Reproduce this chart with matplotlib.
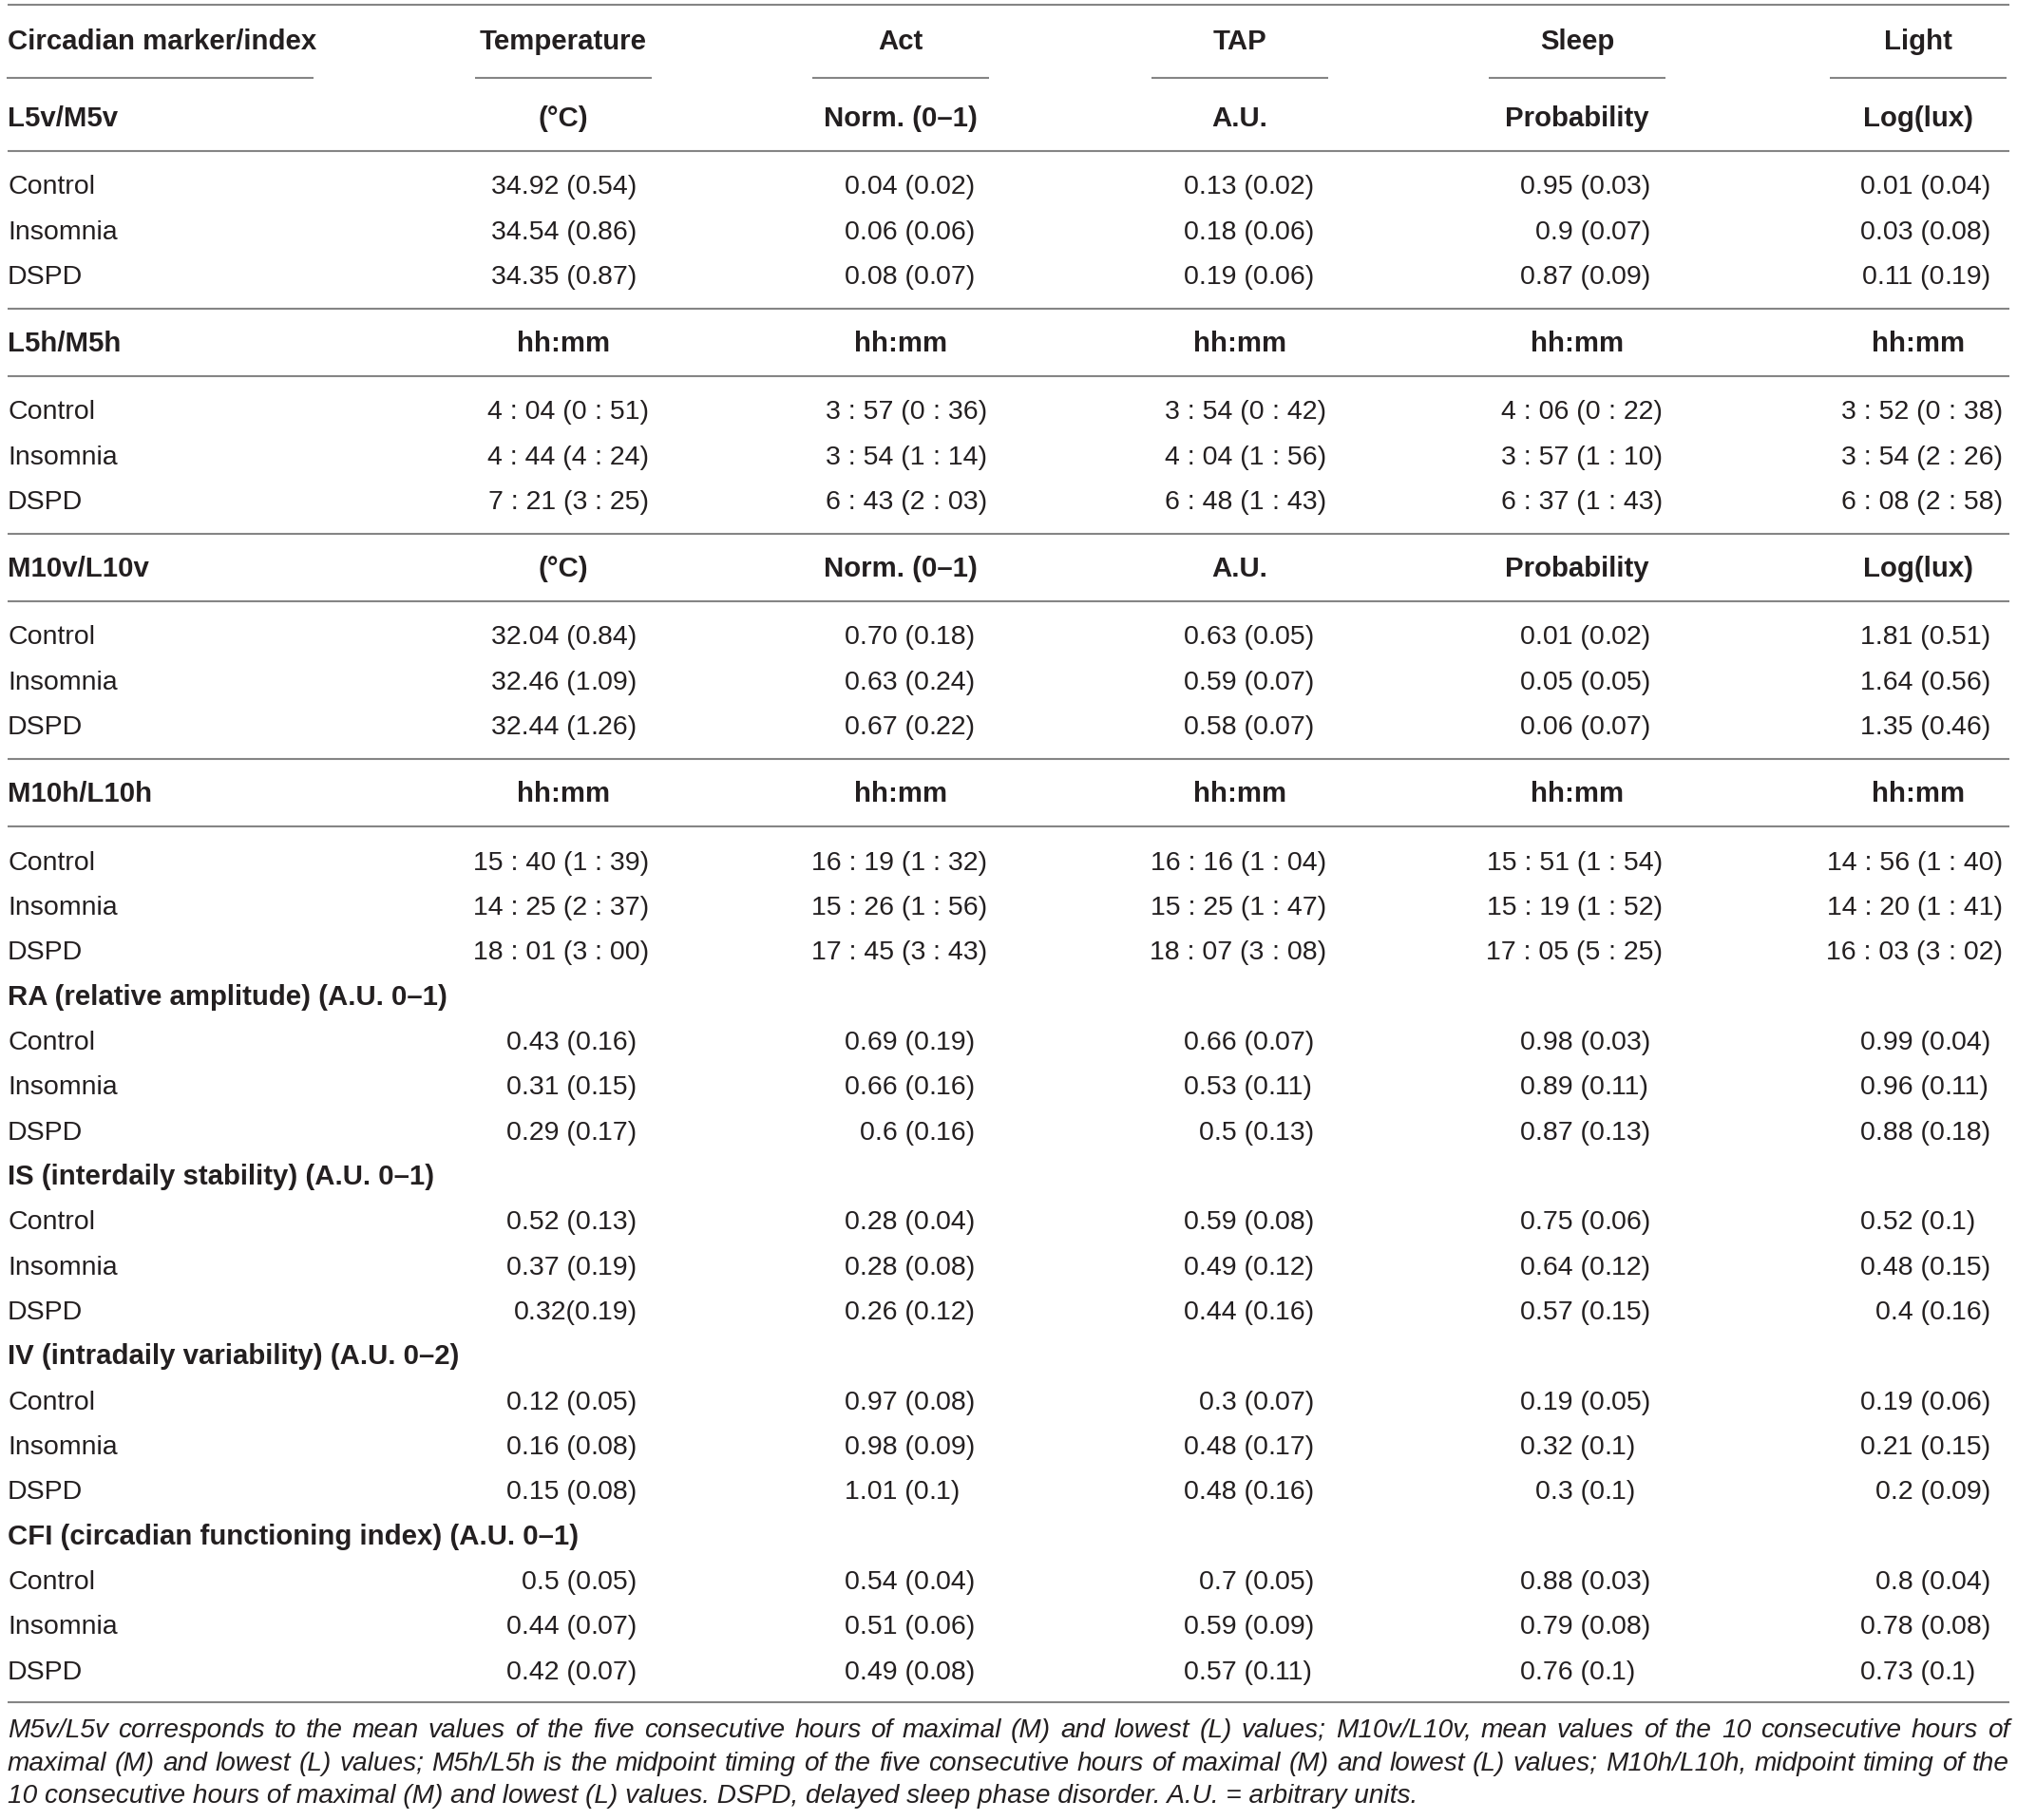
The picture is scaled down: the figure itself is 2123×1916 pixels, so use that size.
import matplotlib
matplotlib.use('Agg')
import matplotlib.pyplot as plt

W, H = 2123, 1916
plt.rcParams['font.family'] = ['Liberation Sans', 'DejaVu Sans']

# ---- table content ----
columns = ['Temperature', 'Act', 'TAP', 'Sleep', 'Light']
groups = ['Control', 'Insomnia', 'DSPD']
units_value = ['(°C)', 'Norm. (0–1)', 'A.U.', 'Probability', 'Log(lux)']
units_time = ['hh:mm', 'hh:mm', 'hh:mm', 'hh:mm', 'hh:mm']

l5v_m5v = [
    ['34.92 (0.54)', '0.04 (0.02)', '0.13 (0.02)', '0.95 (0.03)', '0.01 (0.04)'],
    ['34.54 (0.86)', '0.06 (0.06)', '0.18 (0.06)', '0.9 (0.07)', '0.03 (0.08)'],
    ['34.35 (0.87)', '0.08 (0.07)', '0.19 (0.06)', '0.87 (0.09)', '0.11 (0.19)'],
]
l5h_m5h = [
    ['4 : 04 (0 : 51)', '3 : 57 (0 : 36)', '3 : 54 (0 : 42)', '4 : 06 (0 : 22)', '3 : 52 (0 : 38)'],
    ['4 : 44 (4 : 24)', '3 : 54 (1 : 14)', '4 : 04 (1 : 56)', '3 : 57 (1 : 10)', '3 : 54 (2 : 26)'],
    ['7 : 21 (3 : 25)', '6 : 43 (2 : 03)', '6 : 48 (1 : 43)', '6 : 37 (1 : 43)', '6 : 08 (2 : 58)'],
]
m10v_l10v = [
    ['32.04 (0.84)', '0.70 (0.18)', '0.63 (0.05)', '0.01 (0.02)', '1.81 (0.51)'],
    ['32.46 (1.09)', '0.63 (0.24)', '0.59 (0.07)', '0.05 (0.05)', '1.64 (0.56)'],
    ['32.44 (1.26)', '0.67 (0.22)', '0.58 (0.07)', '0.06 (0.07)', '1.35 (0.46)'],
]
m10h_l10h = [
    ['15 : 40 (1 : 39)', '16 : 19 (1 : 32)', '16 : 16 (1 : 04)', '15 : 51 (1 : 54)', '14 : 56 (1 : 40)'],
    ['14 : 25 (2 : 37)', '15 : 26 (1 : 56)', '15 : 25 (1 : 47)', '15 : 19 (1 : 52)', '14 : 20 (1 : 41)'],
    ['18 : 01 (3 : 00)', '17 : 45 (3 : 43)', '18 : 07 (3 : 08)', '17 : 05 (5 : 25)', '16 : 03 (3 : 02)'],
]
ra = [
    ['0.43 (0.16)', '0.69 (0.19)', '0.66 (0.07)', '0.98 (0.03)', '0.99 (0.04)'],
    ['0.31 (0.15)', '0.66 (0.16)', '0.53 (0.11)', '0.89 (0.11)', '0.96 (0.11)'],
    ['0.29 (0.17)', '0.6 (0.16)', '0.5 (0.13)', '0.87 (0.13)', '0.88 (0.18)'],
]
is_ = [
    ['0.52 (0.13)', '0.28 (0.04)', '0.59 (0.08)', '0.75 (0.06)', '0.52 (0.1)'],
    ['0.37 (0.19)', '0.28 (0.08)', '0.49 (0.12)', '0.64 (0.12)', '0.48 (0.15)'],
    ['0.32(0.19)', '0.26 (0.12)', '0.44 (0.16)', '0.57 (0.15)', '0.4 (0.16)'],
]
iv = [
    ['0.12 (0.05)', '0.97 (0.08)', '0.3 (0.07)', '0.19 (0.05)', '0.19 (0.06)'],
    ['0.16 (0.08)', '0.98 (0.09)', '0.48 (0.17)', '0.32 (0.1)', '0.21 (0.15)'],
    ['0.15 (0.08)', '1.01 (0.1)', '0.48 (0.16)', '0.3 (0.1)', '0.2 (0.09)'],
]
cfi = [
    ['0.5 (0.05)', '0.54 (0.04)', '0.7 (0.05)', '0.88 (0.03)', '0.8 (0.04)'],
    ['0.44 (0.07)', '0.51 (0.06)', '0.59 (0.09)', '0.79 (0.08)', '0.78 (0.08)'],
    ['0.42 (0.07)', '0.49 (0.08)', '0.57 (0.11)', '0.76 (0.1)', '0.73 (0.1)'],
]

sections = [
    ('L5v/M5v', units_value, l5v_m5v),
    ('L5h/M5h', units_time, l5h_m5h),
    ('M10v/L10v', units_value, m10v_l10v),
    ('M10h/L10h', units_time, m10h_l10h),
    ('RA (relative amplitude) (A.U. 0–1)', None, ra),
    ('IS (interdaily stability) (A.U. 0–1)', None, is_),
    ('IV (intradaily variability) (A.U. 0–2)', None, iv),
    ('CFI (circadian functioning index) (A.U. 0–1)', None, cfi),
]

footnote = [
    'M5v/L5v corresponds to the mean values of the five consecutive hours of maximal (M) and lowest (L) values; '
    'M10v/L10v, mean values of the 10 consecutive hours of',
    'maximal (M) and lowest (L) values; M5h/L5h is the midpoint timing of the five consecutive hours of maximal (M) '
    'and lowest (L) values; M10h/L10h, midpoint timing of the',
    '10 consecutive hours of maximal (M) and lowest (L) values. DSPD, delayed sleep phase disorder. A.U. = arbitrary units.',
]

# ---- layout ----
TXT = '#231f20'
LINE = '#858585'
REG = dict(fontsize=20.5, color=TXT)
BOLD = dict(fontsize=21.2, color=TXT, fontweight='bold')
NOTE = dict(fontsize=20.2, color=TXT, style='italic')
x_left, x_right = 8, 2115
col_center = [593, 948, 1305, 1660, 2019]
col_right = [671, 1027, 1384, 1738, 2096]
step, gap_line = 47.35, 71.2
base = 10  # baseline offset below visual row centre

fig = plt.figure(figsize=(W / 100, H / 100), dpi=100)
ax = fig.add_axes([0, 0, 1, 1])
ax.set_xlim(0, W)
ax.set_ylim(H, 0)
ax.axis('off')
renderer = fig.canvas.get_renderer()


def width(s, **kw):
    t = ax.text(0, 0, s, **kw)
    w = t.get_window_extent(renderer).width
    t.remove()
    return w


def hline(y, x0=x_left, x1=x_right):
    ax.plot([x0, x1], [y, y], color=LINE, lw=1.5, solid_capstyle='butt')


# anchor = position of the decimal point (or colon) of the SD value
anchors = [r - width('.54)', **REG) for r in col_right]


def cell(s, j, y):
    i = max(s.rfind('.'), s.rfind(':'))
    x = anchors[j] + (4 if s[i] == ':' else 0)
    ax.text(x, y + base, s[:i], ha='right', va='baseline', **REG)
    ax.text(x, y + base, s[i:], ha='left', va='baseline', **REG)


hline(5)
y = 42
ax.text(x_left, y + base, 'Circadian marker/index', ha='left', va='baseline', **BOLD)
hline(82, 7, 330)
for c, name in zip(col_center, columns):
    ax.text(c, y + base, name, ha='center', va='baseline', **BOLD)
    hline(82, c - 93, c + 93)

y = 123
for k, (title, units, data) in enumerate(sections):
    ax.text(x_left, y + base, title, ha='left', va='baseline', **BOLD)
    if units:
        for c, u in zip(col_center, units):
            ax.text(c, y + base, u, ha='center', va='baseline', **BOLD)
        hline(y + gap_line / 2)
        y += gap_line
    else:
        y += step
    for r, (g, row) in enumerate(zip(groups, data)):
        ax.text(x_left, y + base, g, ha='left', va='baseline', **REG)
        for j, s in enumerate(row):
            cell(s, j, y)
        if r < 2:
            y += step
    nxt = sections[k + 1] if k + 1 < len(sections) else None
    if nxt is None:
        hline(y + 34)
    elif nxt[1] is not None:
        hline(y + gap_line / 2)
        y += gap_line
    else:
        y += step

# footnote, first two lines justified
y_note = [1821, 1855.5, 1890]
for n, (line, yn) in enumerate(zip(footnote, y_note)):
    if n < len(footnote) - 1:
        words = line.split(' ')
        ws = [width(wd, **NOTE) for wd in words]
        gap = (x_right - x_left - sum(ws)) / (len(words) - 1)
        x = x_left
        for wd, wdw in zip(words, ws):
            ax.text(x, yn + 8, wd, ha='left', va='baseline', **NOTE)
            x += wdw + gap
    else:
        ax.text(x_left, yn + 8, line, ha='left', va='baseline', **NOTE)

fig.savefig('out.png', dpi=100, facecolor='white')
